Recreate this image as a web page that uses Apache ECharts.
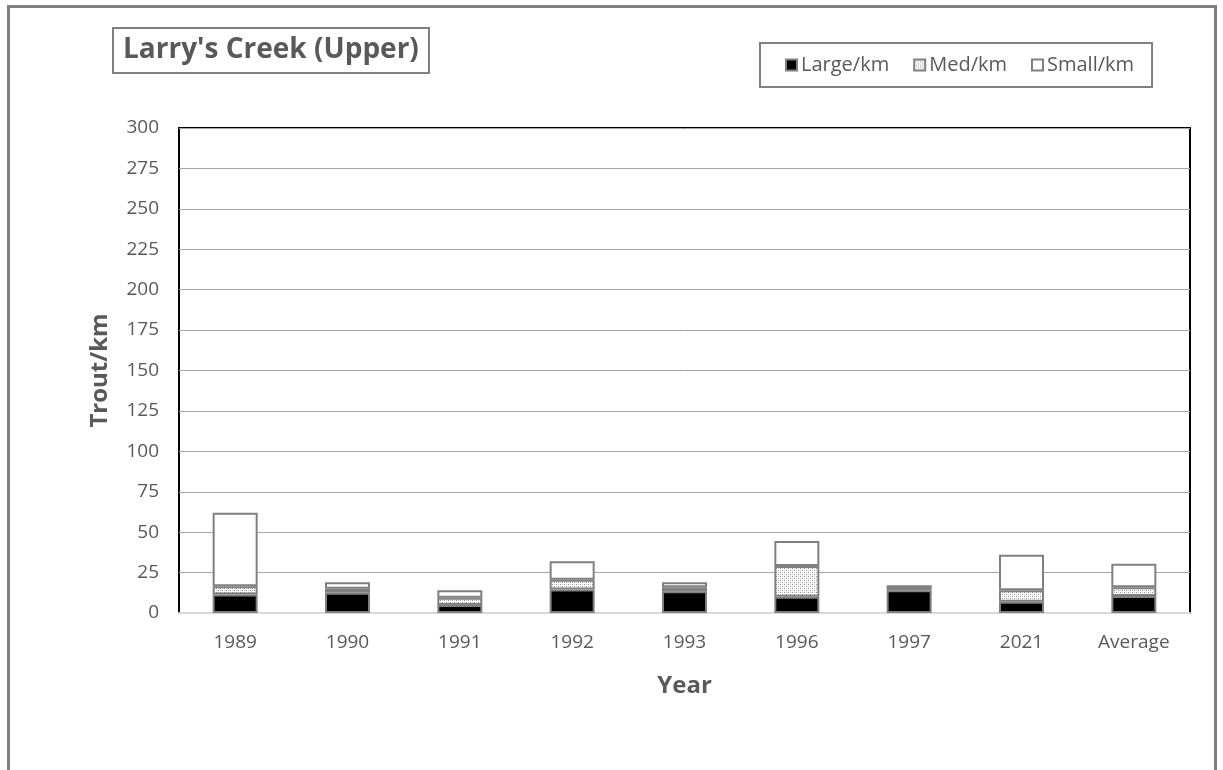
<!DOCTYPE html>
<html>
<head>
<meta charset="utf-8">
<script src="https://cdn.jsdelivr.net/npm/echarts@6/dist/echarts.min.js"></script>
<style>
  html, body { margin: 0; padding: 0; background: #fff; }
  #chart { width: 1223px; height: 770px; }
</style>
</head>
<body>
<div id="chart"></div>
<script>
// Trout density per survey year, stacked by size class
const years = ['1989', '1990', '1991', '1992', '1993', '1996', '1997', '2021', 'Average'];
const largePerKm = [11.5, 12.5, 5, 14.5, 13.5, 10, 14, 7, 10.5];
const medPerKm   = [5, 2.5, 4.5, 6, 2.5, 19, 2.5, 7, 5.5];
const smallPerKm = [45.5, 4, 4.5, 11.5, 3, 15.5, 0, 22, 14.5];
const yTicks = { min: 0, max: 300, step: 25 };

// dotted fill for the medium size class
function dotPattern() {
  const c = document.createElement('canvas');
  c.width = 4; c.height = 4;
  const g = c.getContext('2d');
  g.fillStyle = '#ffffff';
  g.fillRect(0, 0, 4, 4);
  g.fillStyle = '#8c8c8c';
  g.fillRect(0, 0, 1, 1);
  g.fillRect(2, 2, 1, 1);
  g.fillStyle = '#c8c8c8';
  g.fillRect(2, 0, 1, 1);
  g.fillRect(0, 2, 1, 1);
  return c;
}

const font = '"Open Sans", "Noto Sans", sans-serif';
const grey = '#595959';
const barBorder = { borderColor: '#808080', borderWidth: 2 };

const chart = echarts.init(document.getElementById('chart'), null, { renderer: 'canvas' });
chart.setOption({
  animation: false,
  backgroundColor: '#ffffff',
  textStyle: { fontFamily: font },
  title: {
    text: "Larry's Creek (Upper)",
    left: 113, top: 28,
    padding: [5, 10, 5, 10],
    borderColor: '#808080', borderWidth: 2,
    textStyle: { fontFamily: font, fontSize: 28, lineHeight: 35, fontWeight: 'bold', color: grey }
  },
  legend: {
    left: 760, top: 43,
    padding: [12, 18, 12, 25],
    borderColor: '#808080', borderWidth: 2,
    itemWidth: 11, itemHeight: 11, itemGap: 24,
    icon: 'rect',
    textStyle: { fontFamily: font, fontSize: 20, color: grey, padding: [0, 0, 0, -1] },
    data: ['Large/km', 'Med/km', 'Small/km']
  },
  grid: {
    left: 179, right: 33, top: 128, bottom: 157,
    show: true, borderColor: '#000000', borderWidth: 2, backgroundColor: '#ffffff'
  },
  xAxis: {
    type: 'category',
    data: years,
    name: 'Year', nameLocation: 'middle', nameGap: 61,
    nameTextStyle: { fontFamily: font, fontSize: 24, fontWeight: 'bold', color: grey },
    axisLine: { show: true, lineStyle: { color: '#d9d9d9', width: 2 } },
    axisTick: { show: false },
    axisLabel: { fontFamily: font, fontSize: 19, color: grey, margin: 20 }
  },
  yAxis: {
    type: 'value',
    min: yTicks.min, max: yTicks.max, interval: yTicks.step,
    name: 'Trout/km', nameLocation: 'middle', nameGap: 67,
    nameTextStyle: { fontFamily: font, fontSize: 24, fontWeight: 'bold', color: grey },
    axisLine: { show: false },
    axisTick: { show: false },
    axisLabel: { fontFamily: font, fontSize: 19, color: grey, margin: 20 },
    splitLine: { lineStyle: { color: '#a6a6a6', width: 1 } }
  },
  series: [
    {
      name: 'Large/km', type: 'bar', stack: 'trout', barWidth: 45,
      data: largePerKm,
      itemStyle: Object.assign({ color: '#000000' }, barBorder)
    },
    {
      name: 'Med/km', type: 'bar', stack: 'trout', barWidth: 45,
      data: medPerKm,
      itemStyle: Object.assign({ color: { image: dotPattern(), repeat: 'repeat' } }, barBorder)
    },
    {
      name: 'Small/km', type: 'bar', stack: 'trout', barWidth: 45,
      data: smallPerKm,
      itemStyle: Object.assign({ color: '#ffffff' }, barBorder)
    }
  ],
  graphic: [
    {
      type: 'polyline', silent: true,
      shape: { points: [[8.5, 770], [8.5, 6.5], [1215.5, 6.5], [1215.5, 770]] },
      style: { stroke: '#808080', lineWidth: 3, fill: null }
    }
  ]
});
</script>
</body>
</html>
